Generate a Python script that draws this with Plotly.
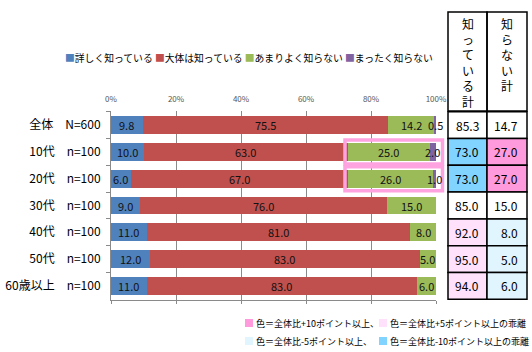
import plotly.graph_objects as go

categories = ["全体　N=600", "10代　n=100", "20代　n=100", "30代　n=100",
              "40代　n=100", "50代　n=100", "60歳以上　n=100"]
series_names = ["詳しく知っている", "大体は知っている", "あまりよく知らない", "まったく知らない"]
series_colors = ["#4F81BD", "#C0504D", "#9BBB59", "#8064A2"]
detail = [9.8, 10.0, 6.0, 9.0, 11.0, 12.0, 11.0]
roughly = [75.5, 63.0, 67.0, 76.0, 81.0, 83.0, 83.0]
not_much = [14.2, 25.0, 26.0, 15.0, 8.0, 5.0, 6.0]
not_at_all = [0.5, 2.0, 1.0, 0, 0, 0, 0]
known_total = [85.3, 73.0, 73.0, 85.0, 92.0, 95.0, 94.0]
unknown_total = [14.7, 27.0, 27.0, 15.0, 8.0, 5.0, 6.0]
known_fill = ["#FFFFFF", "#80D4FF", "#80D4FF", "#FFFFFF", "#FFE1FB", "#FFE1FB", "#FFE1FB"]
unknown_fill = ["#FFFFFF", "#FF9ADD", "#FF9ADD", "#FFFFFF", "#E1F5FF", "#E1F5FF", "#E1F5FF"]
highlight_rows = [1, 2]
xticks = [0, 20, 40, 60, 80, 100]
xticklabels = ["0%", "20%", "40%", "60%", "80%", "100%"]

FONT = "Noto Sans CJK JP"
W, H = 532, 352
ML, MR, MT, MB = 111, 96, 111, 52
PW = W - ML - MR
PH = H - MT - MB


def px(x):
    return (x - ML) / PW


def py(y):
    return (H - MB - y) / PH


series = [detail, roughly, not_much, not_at_all]
fig = go.Figure()
for name, vals, col in zip(series_names, series, series_colors):
    fig.add_trace(go.Bar(y=categories, x=vals, name=name, orientation="h",
                         marker=dict(color=col, line=dict(width=0)),
                         showlegend=False, hoverinfo="x+name"))
# invisible trace for the top axis
fig.add_trace(go.Scatter(x=[0, 100], y=[categories[0], categories[0]], xaxis="x2",
                         mode="markers", marker=dict(opacity=0), showlegend=False,
                         hoverinfo="skip"))

annotations = []
shapes = []
# bar labels
for i, cat in enumerate(categories):
    cum = 0
    for vals in series:
        v = vals[i]
        if v > 0:
            annotations.append(dict(x=cum + v / 2, y=i, xref="x", yref="y",
                                    text=f"{v:.1f}", showarrow=False,
                                    font=dict(family=FONT, size=11, color="#111")))
        cum += v

# highlight boxes
for i in highlight_rows:
    start = (detail[i] + roughly[i]) / 100
    shapes.append(dict(type="rect", xref="paper", yref="y",
                       x0=start - 0.01, x1=1.02, y0=i - 0.45, y1=i + 0.45,
                       line=dict(color="#FFA3E0", width=3.5), fillcolor="rgba(0,0,0,0)"))

# table
c0, c1, c2 = px(448), px(487), px(527)
shapes.append(dict(type="rect", xref="paper", yref="paper", x0=c0, x1=c1,
                   y0=1, y1=py(12), line=dict(color="black", width=1.5)))
shapes.append(dict(type="rect", xref="paper", yref="paper", x0=c1, x1=c2,
                   y0=1, y1=py(12), line=dict(color="black", width=1.5)))
annotations.append(dict(x=(c0 + c1) / 2, y=py(13), xref="paper", yref="paper",
                        yanchor="top", xanchor="center", showarrow=False,
                        text="知<br>っ<br>て<br>い<br>る<br>計",
                        font=dict(family=FONT, size=12, color="black")))
annotations.append(dict(x=(c1 + c2) / 2, y=py(13), xref="paper", yref="paper",
                        yanchor="top", xanchor="center", showarrow=False,
                        text="知<br>ら<br>な<br>い<br>計",
                        font=dict(family=FONT, size=12, color="black")))
for i in range(len(categories)):
    shapes.append(dict(type="rect", xref="paper", yref="y", x0=c0, x1=c1,
                       y0=i - 0.5, y1=i + 0.5, fillcolor=known_fill[i],
                       line=dict(color="black", width=1.5), layer="below"))
    shapes.append(dict(type="rect", xref="paper", yref="y", x0=c1, x1=c2,
                       y0=i - 0.5, y1=i + 0.5, fillcolor=unknown_fill[i],
                       line=dict(color="black", width=1.5), layer="below"))
    annotations.append(dict(x=px(481), y=i, xref="paper", yref="y", xanchor="right",
                            text=f"{known_total[i]:.1f}", showarrow=False,
                            font=dict(family=FONT, size=12, color="black")))
    annotations.append(dict(x=px(520), y=i, xref="paper", yref="y", xanchor="right",
                            text=f"{unknown_total[i]:.1f}", showarrow=False,
                            font=dict(family=FONT, size=12, color="black")))

# top legend
legend_text = " ".join(f"<span style='color:{c}'>■</span>{n}"
                       for n, c in zip(series_names, series_colors))
annotations.append(dict(x=px(63), y=py(58), xref="paper", yref="paper",
                        xanchor="left", yanchor="middle", showarrow=False,
                        text=legend_text, font=dict(family=FONT, size=9.8, color="black")))

# bottom colour legend
bottom_items = [
    (245, 323, "#FF9ADD", "色＝全体比+10ポイント以上、"),
    (379, 323, "#FFE1FB", "色＝全体比+5ポイント以上の乖離"),
    (245, 341, "#E1F5FF", "色＝全体比-5ポイント以上、"),
    (379, 341, "#80D4FF", "色＝全体比-10ポイント以上の乖離"),
]
for xs, ys, col, txt in bottom_items:
    shapes.append(dict(type="rect", xref="paper", yref="paper",
                       x0=px(xs), x1=px(xs + 8), y0=py(ys - 4), y1=py(ys + 4),
                       fillcolor=col, line=dict(width=0)))
    annotations.append(dict(x=px(xs + 9), y=py(ys), xref="paper", yref="paper",
                            xanchor="left", yanchor="middle", showarrow=False,
                            text=txt, font=dict(family=FONT, size=9, color="black")))

fig.update_layout(
    width=W, height=H,
    margin=dict(l=ML, r=MR, t=MT, b=MB, pad=0, autoexpand=False),
    barmode="stack", bargap=0.33,
    paper_bgcolor="white", plot_bgcolor="white",
    font=dict(family=FONT, color="black"),
    xaxis=dict(range=[0, 100], tickvals=xticks, showticklabels=False,
               showgrid=True, gridcolor="#8A8A8A", gridwidth=1, zeroline=False,
               showline=True, linecolor="#8A8A8A", linewidth=1,
               ticks="outside", ticklen=3, tickcolor="#8A8A8A"),
    xaxis2=dict(range=[0, 100], overlaying="x", side="top", tickvals=xticks,
                ticktext=xticklabels, showgrid=False, zeroline=False, showline=False,
                ticks="", tickfont=dict(family=FONT, size=8, color="#555"),
                ticklabelstandoff=6),
    yaxis=dict(type="category", autorange="reversed", showline=True,
               linecolor="#8A8A8A", linewidth=1, ticks="outside", tickson="boundaries",
               ticklen=4, tickcolor="#8A8A8A", showgrid=False,
               tickfont=dict(family=FONT, size=12, color="black"), ticklabelstandoff=7),
    annotations=annotations, shapes=shapes,
)
fig.write_html("out.html")
